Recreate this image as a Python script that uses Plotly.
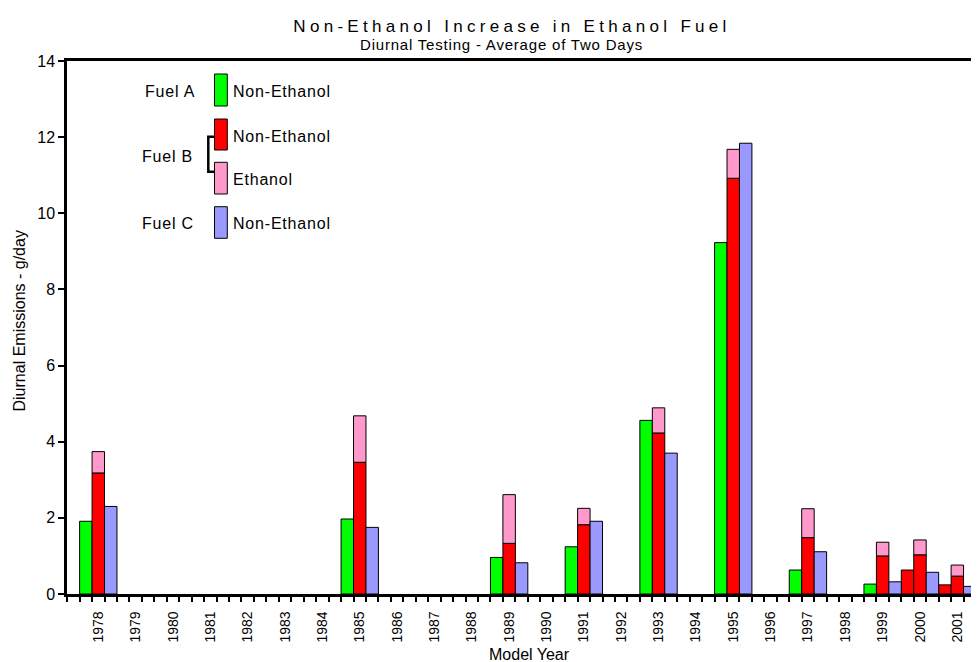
"""
Diurnal emissions by model year for three test fuels, with the
ethanol increase for Fuel B stacked on top of its non-ethanol value.
"""

import plotly.graph_objects as go

# category axis: every model year gets a slot, even untested ones
model_years = [1978, 1979, 1980, 1981, 1982, 1983, 1984, 1985, 1986, 1987,
               1988, 1989, 1990, 1991, 1992, 1993, 1994, 1995, 1996, 1997,
               1998, 1999, 2000, 2001]
model_year_labels = [str(y) for y in model_years]

# model years that were actually tested
tested_years = [1978, 1985, 1989, 1991, 1993, 1995, 1997, 1999, 2000, 2001]

# diurnal emissions, g/day
fuel_a_non_ethanol = [1.91, 1.97, 0.96, 1.24, 4.56, 9.23, 0.63, 0.26, 0.63, 0.24]
fuel_b_non_ethanol = [3.18, 3.46, 1.33, 1.82, 4.23, 10.92, 1.48, 1.00, 1.03, 0.47]
fuel_b_ethanol = [0.56, 1.22, 1.28, 0.43, 0.66, 0.76, 0.76, 0.36, 0.39, 0.29]
fuel_c_non_ethanol = [2.30, 1.75, 0.82, 1.91, 3.70, 11.84, 1.11, 0.32, 0.57, 0.20]

# in the original the first bar of these years is drawn red, not green
fuel_a_red_years = [2000, 2001]

GREEN = '#00ff00'
RED = '#ff0000'
PINK = '#ff99cc'
BLUE = '#9999ff'
FONT = 'Liberation Sans, Arial, sans-serif'

# the page body has an 8px margin, so the figure is drawn 8px in
PAGE = 8
W, H = 979 - PAGE, 662 - PAGE
L, R, T, B = 67 - PAGE, 0, 61 - PAGE, 68


def paper_x(px):
    # px is a position in the 979x662 window
    return (px - PAGE - L) / (W - L - R)


def paper_y(py):
    return 1 - (py - PAGE - T) / (H - T - B)


def spaced(text, px):
    return '<span style="letter-spacing:%spx">%s</span>' % (px, text)


def note(fig, x, y, text, xanchor='center', **kw):
    fig.add_annotation(x=paper_x(x), y=paper_y(y), xref='paper', yref='paper',
                       text=text, showarrow=False, xanchor=xanchor,
                       yanchor='middle', **kw)


def add_bars(fig):
    bar_line = dict(color='black', width=1)
    a_colors = [RED if y in fuel_a_red_years else GREEN for y in tested_years]
    fig.add_trace(go.Bar(x=tested_years, y=fuel_a_non_ethanol,
                         width=1 / 3, offset=-0.5,
                         marker=dict(color=a_colors, line=bar_line)))
    fig.add_trace(go.Bar(x=tested_years, y=fuel_b_non_ethanol,
                         width=1 / 3, offset=-1 / 6,
                         marker=dict(color=RED, line=bar_line)))
    fig.add_trace(go.Bar(x=tested_years, y=fuel_b_ethanol,
                         base=fuel_b_non_ethanol,
                         width=1 / 3, offset=-1 / 6,
                         marker=dict(color=PINK, line=bar_line)))
    fig.add_trace(go.Bar(x=tested_years, y=fuel_c_non_ethanol,
                         width=1 / 3, offset=1 / 6,
                         marker=dict(color=BLUE, line=bar_line)))


def add_legend(fig):
    # hand-built legend with the Fuel B bracket
    rows = [
        ('Fuel A', 197, 91, GREEN, 74, 106, 'Non-Ethanol', 91),
        (None, 0, 0, RED, 119, 150, 'Non-Ethanol', 136.7),
        (None, 0, 0, PINK, 162.3, 194, 'Ethanol', 179),
        ('Fuel C', 196, 224, BLUE, 206.7, 238.3, 'Non-Ethanol', 224),
    ]
    for fuel, fx, fy, color, top, bottom, label, ly in rows:
        fig.add_shape(type='rect', xref='paper', yref='paper',
                      x0=paper_x(214.5), x1=paper_x(227.3),
                      y0=paper_y(bottom), y1=paper_y(top),
                      fillcolor=color, line=dict(color='black', width=1))
        note(fig, 231, ly, spaced(label, 0.8), xanchor='left')
        if fuel:
            note(fig, fx, fy, spaced(fuel, 0.8), xanchor='right')
    note(fig, 195, 156, spaced('Fuel B', 0.8), xanchor='right')
    path = 'M %f,%f L %f,%f L %f,%f L %f,%f' % (
        paper_x(214.5), paper_y(136.7), paper_x(208.3), paper_y(136.7),
        paper_x(208.3), paper_y(171.7), paper_x(214.5), paper_y(171.7))
    fig.add_shape(type='path', xref='paper', yref='paper', path=path,
                  line=dict(color='black', width=2.5))


def main():
    fig = go.Figure()
    add_bars(fig)
    add_legend(fig)

    fig.update_layout(
        width=W, height=H,
        margin=dict(l=L, r=R, t=T, b=B),
        barmode='overlay',
        showlegend=False,
        plot_bgcolor='white',
        paper_bgcolor='white',
        font=dict(family=FONT, size=16, color='black'),
        title=dict(text=spaced('Non-Ethanol Increase in Ethanol Fuel', 4.3),
                   x=(512 - PAGE) / W, y=1 - (26 - PAGE) / H,
                   xanchor='center', yanchor='middle',
                   font=dict(family=FONT, size=17, color='black')),
    )
    note(fig, 501, 44.7, spaced('Diurnal Testing - Average of Two Days', 0.8),
         font=dict(size=15))
    note(fig, 19, 321.5, 'Diurnal Emissions - g/day', textangle=-90)
    note(fig, 529.5, 654, 'Model Year')

    fig.update_xaxes(
        range=[1977.162, 2001.58],
        tickmode='array', tickvals=model_years, ticktext=model_year_labels,
        tickangle=-90, tickfont=dict(size=14),
        ticks='outside', ticklen=9, tickcolor='rgba(0,0,0,0)',
        minor=dict(tickmode='linear', tick0=1977.5, dtick=1 / 3,
                   ticks='outside', ticklen=5, tickwidth=1.5,
                   tickcolor='black', showgrid=False),
        showline=True, linecolor='black', linewidth=2.5, mirror=True,
        showgrid=False, zeroline=False, fixedrange=True,
    )
    fig.update_yaxes(
        range=[0, 14], dtick=2, tickfont=dict(size=16),
        ticks='outside', ticklen=6, tickwidth=1.5, tickcolor='black',
        showline=True, linecolor='black', linewidth=2.5,
        showgrid=False, zeroline=False, fixedrange=True,
    )

    fig.write_html('out.html')


if __name__ == '__main__':
    main()
